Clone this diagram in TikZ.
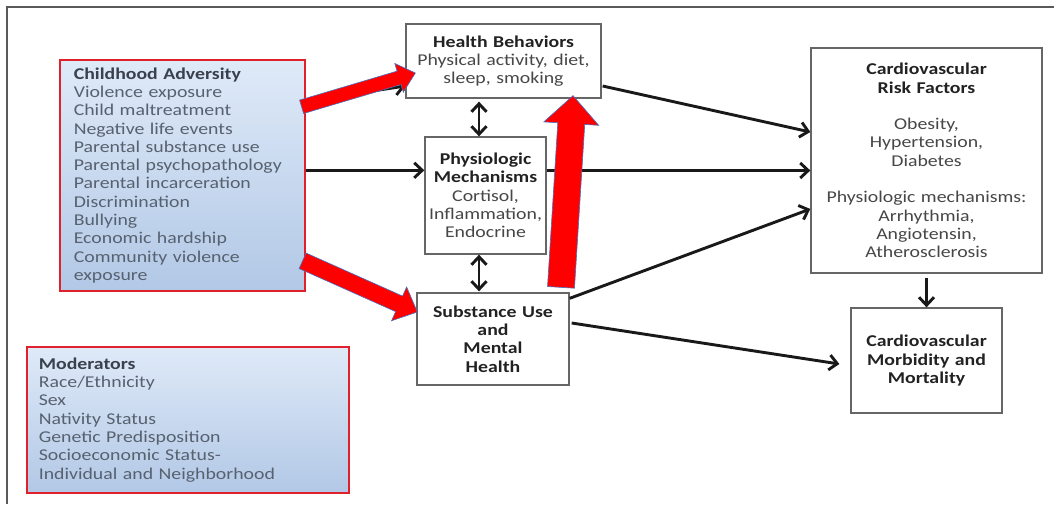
\documentclass[tikz,border=0pt]{standalone}
\usepackage{fontspec}
\setmainfont{Carlito}[FakeStretch=1.2]
\usetikzlibrary{calc}
\usetikzlibrary{arrows.meta}
\definecolor{advtop}{HTML}{DFEAF8}
\definecolor{advbot}{HTML}{B2C8E6}
\definecolor{advline}{HTML}{E0202A}
\definecolor{advtext}{HTML}{57616F}
\definecolor{advhead}{HTML}{3A414D}
\definecolor{boxtext}{HTML}{474747}
\definecolor{boxhead}{HTML}{222222}
\definecolor{fatfill}{HTML}{FF0000}
\definecolor{fatedge}{HTML}{4472C4}
\newcommand*{\boxfont}{\fontsize{16.5}{18.3}\selectfont}
\newcommand*{\boxhd}[1]{\textcolor{boxhead}{\textbf{#1}}}
% tail, tip, half shaft, half head, head length
\newcommand{\fatarrow}[5]{%
  \coordinate (fs) at (#1);
  \coordinate (ft) at (#2);
  \coordinate (fb) at ($(ft)!#5!(fs)$);
  \draw [fatstyle] ($(fs)!#3!90:(ft)$) -- ($(fb)!#3!-90:(fs)$) -- ($(fb)!#4!-90:(fs)$) -- (ft)
        -- ($(fb)!#4!90:(fs)$) -- ($(fb)!#3!90:(fs)$) -- ($(fs)!#3!-90:(ft)$) -- cycle;
}

\begin{document}
\begin{tikzpicture}[x=1pt, y=-1pt, font=\boxfont,
    listbox/.style={draw=advline, line width=1.6pt, top color=advtop, bottom color=advbot,
                    text=advtext, align=left, anchor=north west, inner ysep=0pt},
    plainbox/.style={draw=black!60, line width=1.3pt, fill=white, text=boxtext,
                     align=center, inner sep=0pt},
    conn/.style={draw=black!90, line width=2.9pt, -{Straight Barb[length=8pt,width=15pt]}},
    twoway/.style={draw=black!90, line width=2.9pt,
                   {Straight Barb[length=8pt,width=15pt]}-{Straight Barb[length=8pt,width=15pt]}},
    fatstyle/.style={fill=fatfill, draw=fatedge, line width=0.6pt, line join=miter}]
    \useasboundingbox (0,0) rectangle (1054,504);
    \draw [black!65, line width=1.8pt] (7,504) -- (7,7) -- (1054,7);

    \node [listbox, text width=217pt, inner xsep=14pt, minimum height=231pt] (adv) at (59,59)
        {\textcolor{advhead}{\textbf{Childhood Adversity}}\\ Violence exposure\\ Child maltreatment\\
         Negative life events\\ Parental substance use\\ Parental psychopathology\\
         Parental incarceration\\ Discrimination\\ Bullying\\ Economic hardship\\
         Community violence\\ exposure};
    \node [listbox, text width=298pt, inner xsep=12pt, minimum height=146pt] (mod) at (26,346)
        {\textcolor{advhead}{\textbf{Moderators}}\\ Race/Ethnicity\\ Sex\\ Nativity Status\\
         Genetic Predisposition\\ Socioeconomic Status-\\ Individual and Neighborhood};

    \node [plainbox, text width=195pt, minimum height=74pt] (hb) at (503.5,61)
        {\boxhd{Health Behaviors}\\ Physical activity, diet,\\ sleep, smoking};
    \node [plainbox, text width=121pt, minimum height=117pt] (phys) at (485.5,195.5)
        {\boxhd{Physiologic}\\ \boxhd{Mechanisms}\\ Cortisol,\\ \makebox[\linewidth]{Inflammation,}\\ Endocrine};
    \node [plainbox, text width=152pt, minimum height=92pt] (subst) at (493,339)
        {\boxhd{Substance Use}\\ \boxhd{and}\\ \boxhd{Mental}\\ \boxhd{Health}};
    \node [plainbox, text width=231pt, minimum height=225pt] (risk) at (926.5,160.5)
        {\boxhd{Cardiovascular}\\ \boxhd{Risk Factors}\\[18.3pt] Obesity,\\ Hypertension,\\ Diabetes\\[18.3pt]
         Physiologic mechanisms:\\ Arrhythmia,\\ Angiotensin,\\ Atherosclerosis};
    \node [plainbox, text width=151pt, minimum height=105pt] (mort) at (926.5,360.5)
        {\boxhd{Cardiovascular}\\ \boxhd{Morbidity and}\\ \boxhd{Mortality}};

    \draw [conn] ([yshift=74pt]adv.east) -- ([yshift=-25pt]hb.west);
    \draw [conn] ([yshift=5pt]adv.east) -- ([yshift=5pt]adv.east -| phys.west);
    \draw [twoway, shorten <=3pt] ([xshift=-6.5pt]phys.north |- hb.south) -- ([xshift=-6.5pt]phys.north);
    \draw [twoway, shorten >=1pt] ([xshift=-6.5pt]phys.south) -- ([xshift=-6.5pt]phys.south |- subst.north);
    \draw [conn] ([xshift=1pt,yshift=-25pt]hb.east) -- ([yshift=28.5pt]risk.west);
    \draw [conn] ([yshift=25pt]phys.east) -- ([yshift=25pt]phys.east -| risk.west);
    \draw [conn] ([yshift=-6pt]subst.north east) -- ([yshift=-48.5pt]risk.west);
    \draw [conn] ([xshift=2pt,yshift=16pt]subst.east) -- ([xshift=-11pt,yshift=-3.5pt]mort.west);
    \draw [conn, shorten <=4pt] (risk.south) -- (mort.north);

    \fatarrow{[xshift=-4pt,yshift=68.5pt]adv.east}{[xshift=10pt,yshift=-12pt]hb.west}{7pt}{15pt}{17pt}
    \fatarrow{[xshift=-3pt,yshift=-85.5pt]adv.east}{[xshift=1pt,yshift=27pt]subst.west}{8.5pt}{18.5pt}{20pt}
    \fatarrow{[xshift=68pt,yshift=5pt]subst.north}{[xshift=69.5pt,yshift=3pt]hb.south}{13.5pt}{27.5pt}{28pt}
\end{tikzpicture}
\end{document}
